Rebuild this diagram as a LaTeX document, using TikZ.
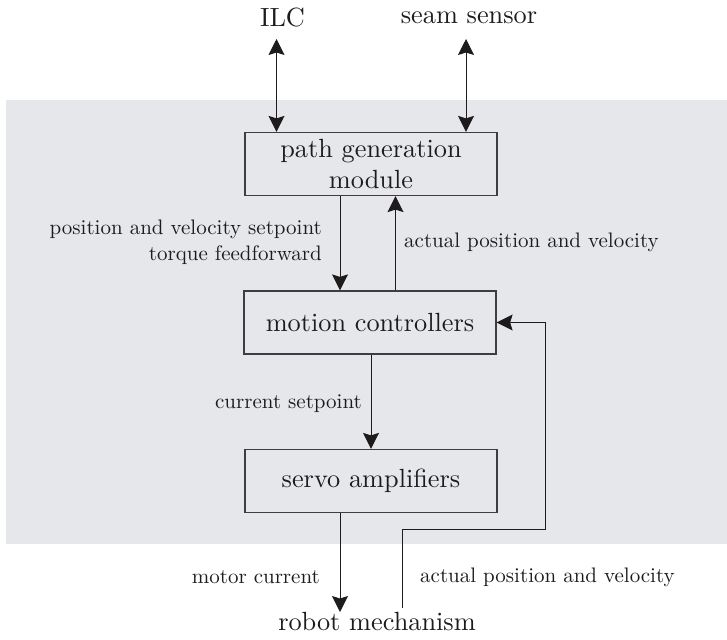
\documentclass[tikz,border=0pt]{standalone}
\usepackage{fontspec}
\setmainfont{lmroman10-regular.otf}
\usetikzlibrary{arrows.meta}
\definecolor{bggray}{RGB}{230,231,234}
\definecolor{ink}{RGB}{30,27,28}
\begin{document}
\begin{tikzpicture}[x=1pt,y=-1pt,
  blk/.style={draw=ink!85, line width=1.2pt, fill=bggray, minimum width=252pt, minimum height=63pt, inner sep=0pt, font=\fontsize{26.3}{31}\selectfont, text=ink, align=center},
  big/.style={font=\fontsize{26.3}{31}\selectfont, text=ink, inner sep=0pt},
  lbl/.style={font=\fontsize{21}{26}\selectfont, text=ink, inner sep=0pt},
  conn/.style={draw=ink, line width=1pt},
  arr/.style={conn, -{Stealth[length=16pt,width=16pt,inset=2.5pt]}},
  darr/.style={conn, {Stealth[length=16pt,width=16pt,inset=2.5pt]}-{Stealth[length=16pt,width=16pt,inset=2.5pt]}}]
\useasboundingbox (0,0) rectangle (727,639);
\fill[bggray] (6,100) rectangle (727,544);
\node[blk] (pgm) at (371,164) {path generation\\module};
\node[blk] (mc) at (370,322.5) {motion controllers};
\node[blk] (sa) at (371,481) {servo amplifiers};
\node[big] (ilc) at (282.5,18) {ILC};
\node[big] (seam) at (469,18) {seam sensor};
\node[big, anchor=north] (robot) at (377,612) {robot mechanism};
\coordinate (ilcA) at (276.5,39);
\coordinate (seamA) at (466,39);
\draw[darr] (ilcA) -- (ilcA |- pgm.north);
\draw[darr] (seamA) -- (seamA |- pgm.north);
\coordinate (xd) at (340,0);
\coordinate (xu) at (395.5,0);
\coordinate (xc) at (371,0);
\draw[arr] (pgm.south -| xd) -- (mc.north -| xd);
\draw[arr] (mc.north -| xu) -- (pgm.south -| xu);
\draw[arr] (mc.south -| xc) -- (sa.north -| xc);
\draw[arr] (sa.south -| xd) -- (robot.north -| xd);
\coordinate (fb1) at (545,529);
\coordinate (fb0) at (402,608);
\draw[arr] (fb0) -- (fb0 |- fb1) -- (fb1) -- (fb1 |- mc.east) -- (mc.east);
\node[lbl, anchor=east, align=right] (l1) at (322,242) {position and velocity setpoint\\torque feedforward};
\node[lbl, anchor=west] (l2) at (404,242) {actual position and velocity};
\node[lbl, anchor=east] (l3) at (362,404) {current setpoint};
\node[lbl, anchor=east] (l4) at (320,577) {motor current};
\node[lbl, anchor=west] (l5) at (420,577) {actual position and velocity};
\end{tikzpicture}
\end{document}
